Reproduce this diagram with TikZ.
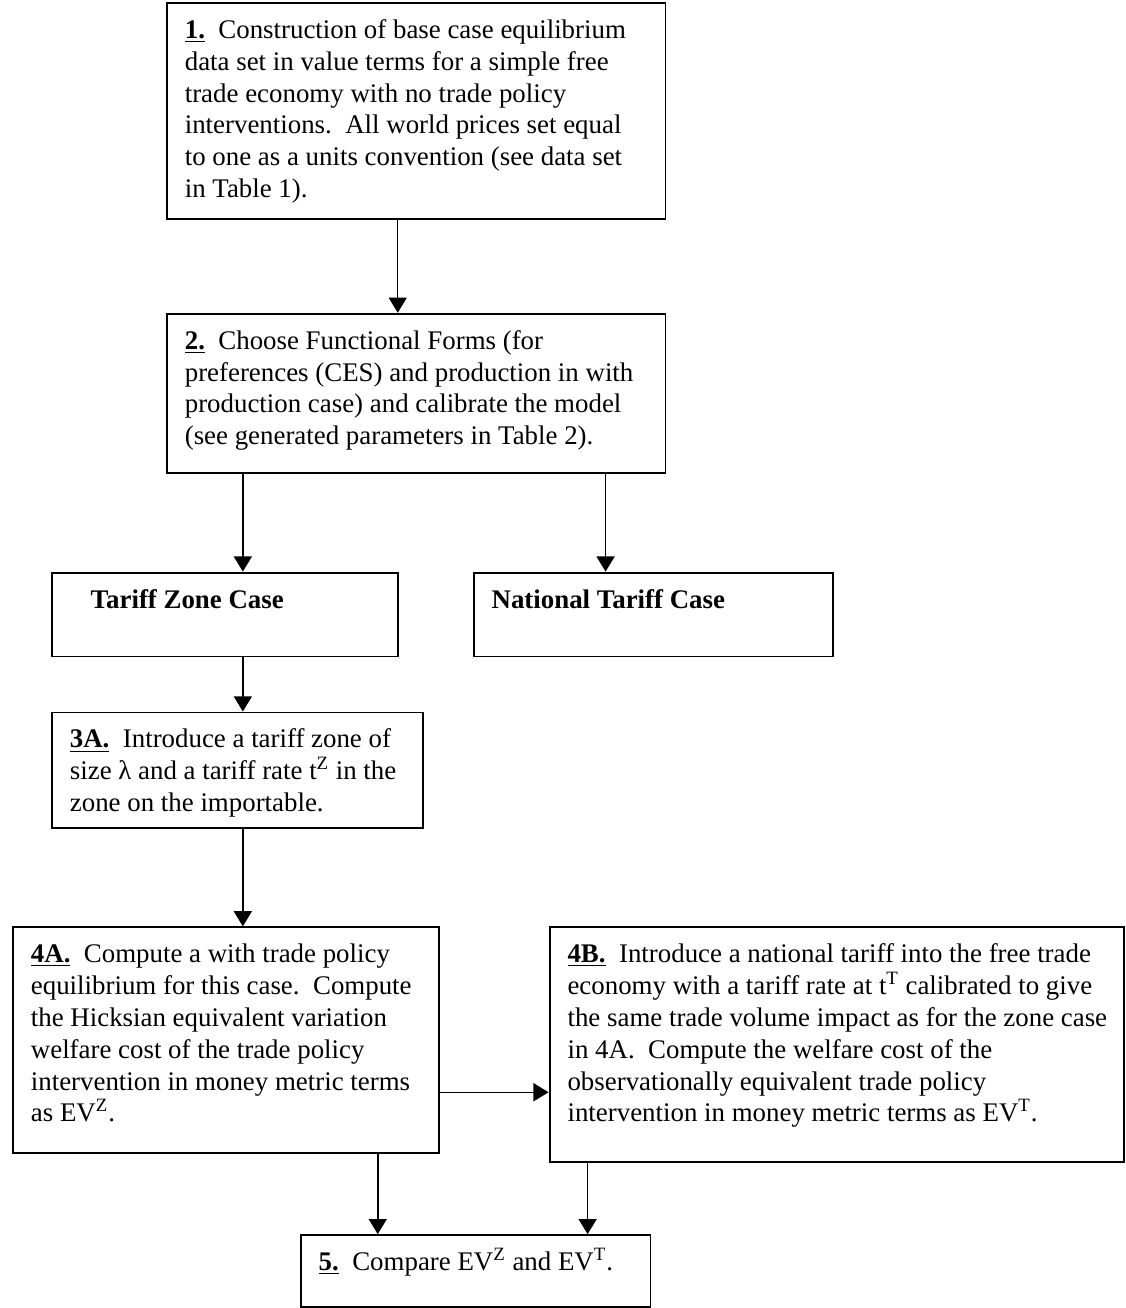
\documentclass[tikz,border=0pt]{standalone}
\usepackage{fontspec}
\setmainfont{Liberation Serif}
\usetikzlibrary{arrows.meta}

\newdimen\pxu \pxu=0.528pt
\newcommand{\stagetext}[3]{\parbox[c][\dimexpr #2\pxu-14pt\relax][t]{\dimexpr #1\pxu-19pt\relax}{%
	\begin{tabular}[t]{@{}l@{}}#3\end{tabular}}}
\newcommand{\stepno}[1]{\underline{\textbf{#1}}\ \ }

\begin{document}
\begin{tikzpicture}[x=0.528pt, y=-0.528pt]
		\tikzstyle{stage}=[draw, line width=1pt, anchor=north west, inner xsep=9.5pt, inner ysep=7pt,
			font=\fontsize{14.2}{16.8}\selectfont]
		\tikzstyle{flow}=[line width=0.8pt, -{Triangle[length=8pt,width=9.5pt]}]
		\fill[white] (0,0) rectangle (1126,1308);
		\node[stage] (n1) at (166,2) {\stagetext{499}{216}{\stepno{1.}Construction of base case equilibrium\\
			data set in value terms for a simple free\\
			trade economy with no trade policy\\
			interventions.\ \ All world prices set equal\\
			to one as a units convention (see data set\\
			in Table 1).}};
		\node[stage] (n2) at (166,313) {\stagetext{499}{159}{\stepno{2.}Choose Functional Forms (for\\
			preferences (CES) and production in with\\
			production case) and calibrate the model\\
			(see generated parameters in Table 2).}};
		\node[stage] (tz) at (51,572) {\stagetext{346}{84}{\hspace*{11pt}\textbf{Tariff Zone Case}}};
		\node[stage] (nt) at (473,572) {\stagetext{360}{84}{\textbf{National Tariff Case}}};
		\node[stage] (s3a) at (51,712) {\stagetext{371}{116}{\stepno{3A.}Introduce a tariff zone of\\
			size λ and a tariff rate t\textsuperscript{Z} in the\\
			zone on the importable.}};
		\node[stage] (s4a) at (12,927) {\stagetext{426}{226}{\stepno{4A.}Compute a with trade policy\\
			equilibrium for this case.\ \ Compute\\
			the Hicksian equivalent variation\\
			welfare cost of the trade policy\\
			intervention in money metric terms\\
			as EV\textsuperscript{Z}.}};
		\node[stage] (s4b) at (549,927) {\stagetext{575}{235}{\stepno{4B.}Introduce a national tariff into the free trade\\
			economy with a tariff rate at t\textsuperscript{T} calibrated to give\\
			the same trade volume impact as for the zone case\\
			in 4A.\ \ Compute the welfare cost of the\\
			observationally equivalent trade policy\\
			intervention in money metric terms as EV\textsuperscript{T}.}};
		\node[stage] (s5) at (300,1235) {\stagetext{350}{72}{\stepno{5.}Compare EV\textsuperscript{Z} and EV\textsuperscript{T}.}};
		% where the connectors run
		\coordinate (a1) at (398,0);
		\coordinate (a2) at (243,0);
		\coordinate (a3) at (606,0);
		\coordinate (a4) at (378,0);
		\coordinate (a5) at (588,0);
		\coordinate (a6) at (0,1093);
		\draw[flow] (n1.south -| a1) -- (n2.north -| a1);
		\draw[flow] (n2.south -| a2) -- (tz.north -| a2);
		\draw[flow] (n2.south -| a3) -- (nt.north -| a3);
		\draw[flow] (tz.south -| a2) -- (s3a.north -| a2);
		\draw[flow] (s3a.south -| a2) -- (s4a.north -| a2);
		\draw[flow] (s4a.east |- a6) -- (s4b.west |- a6);
		\draw[flow] (s4a.south -| a4) -- (s5.north -| a4);
		\draw[flow] (s4b.south -| a5) -- (s5.north -| a5);
\end{tikzpicture}
\end{document}
